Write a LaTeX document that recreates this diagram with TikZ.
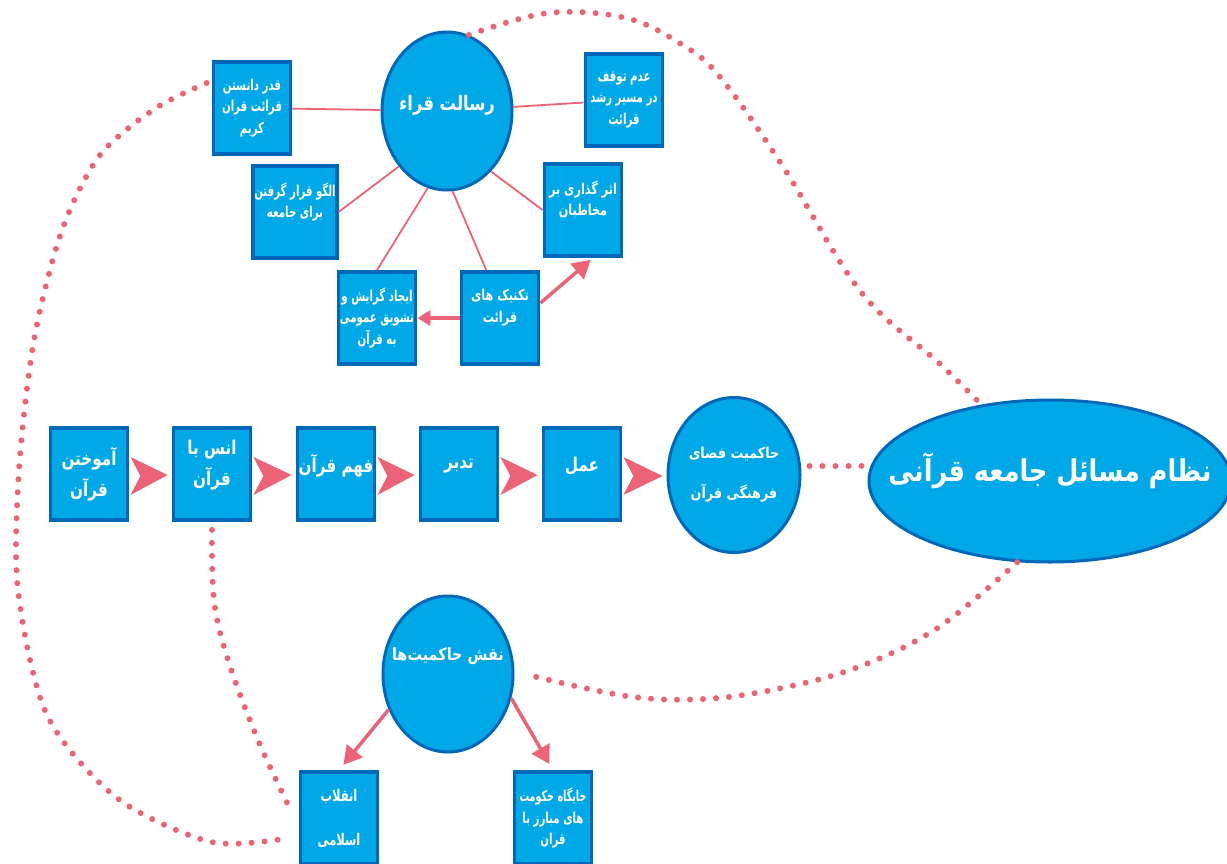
\documentclass[tikz,border=0pt]{standalone}
\usepackage{fontspec}
\newfontfamily\arabicfont[Script=Arabic]{DejaVu Sans}
\TeXXeTstate=1
\usetikzlibrary{shapes.geometric,arrows.meta,calc}
\newcommand{\rl}[2][0.68]{\scalebox{#1}[1]{\beginR #2\endR}}
\definecolor{boxfill}{RGB}{0,168,232}
\definecolor{boxline}{RGB}{0,104,184}
\definecolor{linkc}{RGB}{236,98,118}
\begin{document}
\begin{tikzpicture}[x=1pt,y=-1pt,
 box/.style={draw=boxline,line width=3.8pt,fill=boxfill,minimum width=77pt,minimum height=92pt,inner sep=1pt,align=center,text=white,font=\arabicfont\bfseries\fontsize{15}{21.5}\selectfont},
 rowbox/.style={box,font=\arabicfont\bfseries\fontsize{19}{31}\selectfont},
 oval/.style={ellipse,draw=boxline,line width=3pt,fill=boxfill,inner sep=0pt,align=center,text=white},
 link/.style={draw=linkc,line width=1.8pt},
 dots/.style={draw=linkc,line width=6pt,line cap=round,dash pattern=on 0pt off 13pt},
 chev/.style={fill=linkc},
 arr/.style={draw=linkc,line width=3.5pt,-{Triangle[length=18pt,width=20pt]}},
 sarr/.style={draw=linkc,line width=3.5pt,-{Triangle[length=13pt,width=15pt]}}]
\useasboundingbox (0,0) rectangle (1227,863);

% top cluster
\node[oval,minimum width=130pt,minimum height=158pt,font=\arabicfont\bfseries\fontsize{20}{24}\selectfont] (risalat) at (447,111) {\makebox[0pt]{\rl[0.82]{رسالت قراء}}\\[-14pt]\strut};
\node[box] (qadr) at (252,108) {\rl{قدر دانستن}\\\rl{قرائت قران}\\\rl{کریم}};
\node[box] (adam) at (624,100) {\rl{عدم توقف}\\\rl{در مسیر رشد}\\\rl{قرائت}};
\node[box] (olgu) at (295,212) {\rl{الگو قرار گرفتن}\\\rl{برای جامعه}\\[-4pt]\strut};
\node[box] (asar) at (583,210) {\rl[0.75]{اثر گذاری بر}\\\rl[0.75]{مخاطبان}\\[-4pt]\strut};
\node[box] (ijad) at (377,318) {\rl{ایجاد گرایش و}\\\rl{تشویق عمومی}\\\rl{به قرآن}};
\node[box] (tek) at (500,318) {\rl[0.75]{تکنیک های}\\\rl[0.75]{قرائت}\\[-4pt]\strut};

% middle row
\node[rowbox] (amukhtan) at (89,474) {\rl[0.8]{آموختن}\\\rl[0.8]{قرآن}};
\node[rowbox] (ons) at (212,474) {\rl[0.8]{انس با}\\\rl[0.8]{قرآن}\\[-18pt]\strut};
\node[rowbox] (fahm) at (336,474) {\rl[0.8]{فهم قرآن}\\[-20pt]\strut};
\node[rowbox] (tadabbor) at (459,474) {\rl[0.8]{تدبر}\\[-20pt]\strut};
\node[rowbox] (amal) at (582,474) {\rl[0.8]{عمل}\\[-20pt]\strut};
\node[oval,minimum width=132pt,minimum height=155pt,font=\arabicfont\bfseries\fontsize{15}{22}\selectfont] (hakem) at (734,475) {\makebox[0pt]{\rl[0.85]{حاکمیت فضای}}\\[18pt]\makebox[0pt]{\rl[0.85]{فرهنگی قرآن}}};
\node[oval,minimum width=362pt,minimum height=162pt,font=\arabicfont\bfseries\fontsize{30}{32}\selectfont] (nezam) at (1050,481) {\makebox[0pt]{\rl[0.85]{نظام مسائل جامعه قرآنی}}\\[-14pt]\strut};

% bottom
\node[oval,minimum width=130pt,minimum height=156pt,font=\arabicfont\bfseries\fontsize{17}{24}\selectfont] (naqsh) at (448,674) {\makebox[0pt]{\rl[0.85]{نقش حاکمیت‌ها}}\\[8pt]\strut};
\node[box,font=\arabicfont\bfseries\fontsize{16}{44}\selectfont] (enqelab) at (339,818) {\rl[0.72]{انقلاب}\\\rl[0.72]{اسلامی}};
\node[box] (jaygah) at (553,818) {\rl[0.64]{جایگاه حکومت}\\\rl{های مبارز با}\\\rl{قران}};

% solid links
\draw[link] (risalat) -- (qadr);
\draw[link] (risalat) -- (adam);
\draw[link] (risalat.229) -- (olgu.east);
\draw[link] (risalat.256) -- (ijad.north);
\draw[link] (risalat.274) -- ($(tek.north west)!0.33!(tek.north east)$);
\draw[link] (risalat.306) -- (asar.west);

% arrows
\draw[sarr] (tek.west) -- (ijad.east);
\draw[arr,shorten >=3pt] ([yshift=15pt]tek.east) -- ([xshift=10pt]asar.south);
\draw[arr,shorten >=7pt] (naqsh.211) -- (enqelab.north);
\draw[arr,shorten >=7pt] (naqsh.339) -- (jaygah.north);

% chevrons
\foreach \a/\b in {amukhtan/ons,ons/fahm,fahm/tadabbor,tadabbor/amal,amal/hakem}{
  \fill[chev] ($(\a.east)+(1,-17)$) -- ($(\b.west)+(-4,1)$) -- ($(\a.east)+(1,21)$) -- ($(\a.east)+(11,2)$) -- cycle;
}

% dotted links
\draw[dots] ([yshift=9pt,xshift=8pt]hakem.east) -- ([yshift=15pt,xshift=-6pt]nezam.west);
\draw[dots] plot[smooth,tension=0.6] coordinates {(risalat.74) (548,13) (626,18) (681,44) (720,77) (782,165) (861,292) (939,363) (nezam.132)};
\draw[dots] plot[smooth,tension=0.6] coordinates {(nezam.248) (939,627) (861,666) (782,688) (704,699) (626,696) ([xshift=10pt]naqsh.east)};
\draw[dots] plot[smooth,tension=0.5] coordinates {([yshift=25pt,xshift=-5pt]qadr.west) (156,108) (100,155) (62,230) (34,340) (19,470) (18,590) (47,715) (117,798) (211,842) ([yshift=-20pt,xshift=-10pt]enqelab.west)};
\draw[dots] plot[smooth,tension=0.6] coordinates {([yshift=-8pt]ons.south) (214,600) (228,660) (258,740) ([yshift=6pt,xshift=-7pt]enqelab.west)};
\end{tikzpicture}
\end{document}
